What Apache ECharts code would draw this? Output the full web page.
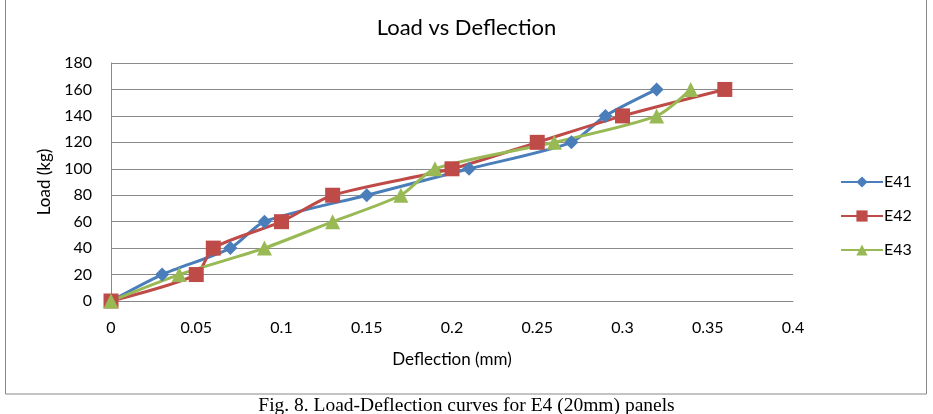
<!DOCTYPE html>
<html>
<head>
<meta charset="utf-8">
<style>
  html, body { margin: 0; padding: 0; background: #fff; }
  #chart { width: 933px; height: 414px; }
</style>
<script src="https://cdn.jsdelivr.net/npm/echarts@6/dist/echarts.min.js"></script>
</head>
<body>
<div id="chart"></div>
<script>
// deflection (mm) / load (kg)
var e41X = [0, 0.03, 0.07, 0.09, 0.15, 0.21, 0.27, 0.29, 0.32];
var e41Y = [0, 20, 40, 60, 80, 100, 120, 140, 160];
var e42X = [0, 0.05, 0.06, 0.10, 0.13, 0.20, 0.25, 0.30, 0.36];
var e42Y = [0, 20, 40, 60, 80, 100, 120, 140, 160];
var e43X = [0, 0.04, 0.09, 0.13, 0.17, 0.19, 0.26, 0.32, 0.34];
var e43Y = [0, 20, 40, 60, 80, 100, 120, 140, 160];
var seriesNames = ['E41', 'E42', 'E43'];

var font = 'Lato, "Open Sans", sans-serif';

function pairs(xs, ys) {
	return xs.map(function(x, i) { return [x, ys[i]]; });
}

function makeSeries(name, xs, ys, color, symbol, size) {
	return {
		name: name,
		type: 'line',
		smooth: 0.25,
		data: pairs(xs, ys),
		symbol: symbol,
		symbolSize: size,
		lineStyle: { color: color, width: 3 },
		itemStyle: { color: color },
		z: 3
	};
}

var myChart = echarts.init(document.getElementById('chart'));
var option = {
	backgroundColor: '#fff',
	animation: false,
	title: {
		text: 'Load vs Deflection',
		left: 'center',
		top: 12,
		textStyle: { fontFamily: font, fontSize: 22, fontWeight: 'normal', color: '#000' }
	},
	legend: {
		orient: 'vertical',
		left: 835,
		top: 169,
		itemGap: 18,
		itemWidth: 42,
		itemHeight: 14,
		data: seriesNames,
		textStyle: { fontFamily: font, fontSize: 16, color: '#000', padding: [0, 0, 0, -4] }
	},
	grid: { left: 111, right: 140, top: 63, bottom: 113, containLabel: false },
	xAxis: {
		type: 'value',
		min: 0,
		max: 0.4,
		interval: 0.05,
		name: 'Deflection (mm)',
		nameLocation: 'middle',
		nameGap: 50,
		nameTextStyle: { fontFamily: font, fontSize: 17, color: '#000' },
		axisLine: { show: true, lineStyle: { color: '#888', width: 1 } },
		axisTick: { show: false },
		splitLine: { show: false },
		axisLabel: {
			fontFamily: font, fontSize: 16, color: '#000', margin: 19,
			formatter: function(v) { return String(+v.toFixed(2)); }
		}
	},
	yAxis: {
		type: 'value',
		min: 0,
		max: 180,
		interval: 20,
		name: 'Load (kg)',
		nameLocation: 'middle',
		nameRotate: 90,
		nameGap: 58,
		nameTextStyle: { fontFamily: font, fontSize: 17, color: '#000' },
		axisLine: { show: true, lineStyle: { color: '#888', width: 1 } },
		axisTick: { show: false },
		splitLine: { lineStyle: { color: '#8a8a8a', width: 1 } },
		axisLabel: { fontFamily: font, fontSize: 16, color: '#000', margin: 19 }
	},
	graphic: [
		{
			type: 'rect',
			shape: { x: 5.5, y: -2, width: 921, height: 396 },
			style: { fill: 'none', stroke: '#888', lineWidth: 1 },
			silent: true
		},
		{
			type: 'text',
			left: 'center',
			top: 396,
			style: {
				text: 'Fig. 8. Load-Deflection curves for E4 (20mm) panels',
				font: '19.5px "Liberation Serif", serif',
				fill: '#000'
			}
		}
	],
	series: [
		makeSeries('E41', e41X, e41Y, '#4a7ebb', 'diamond', 14),
		makeSeries('E42', e42X, e42Y, '#be4b48', 'rect', 15),
		makeSeries('E43', e43X, e43Y, '#98b954', 'triangle', 15)
	]
};
myChart.setOption(option);
</script>
</body>
</html>
